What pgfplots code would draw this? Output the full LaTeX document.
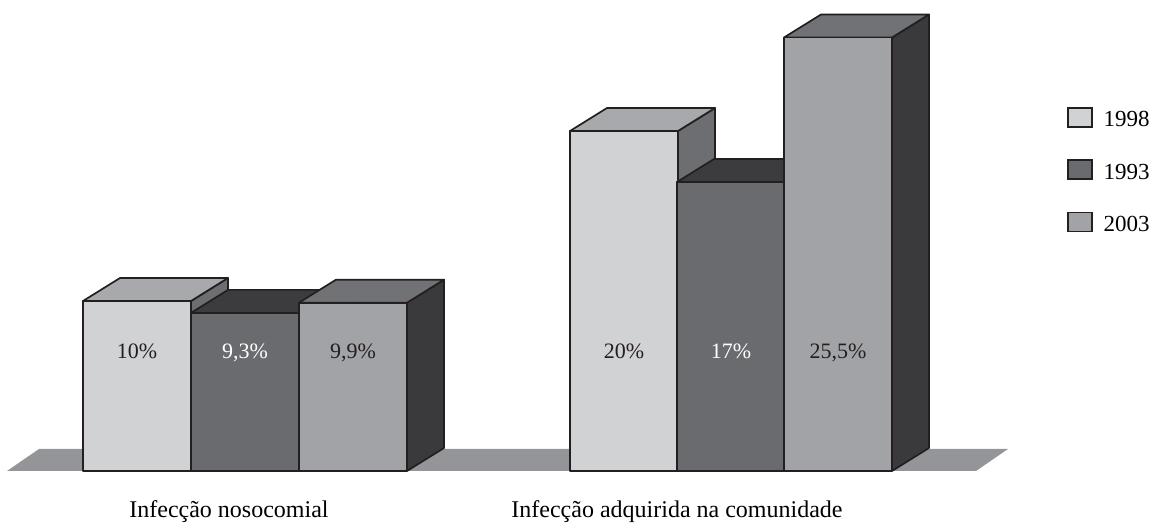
\documentclass[border=0pt]{standalone}
\usepackage{pgfplots}
\pgfplotsset{compat=1.18}
\usepackage{pgfplotstable}
\usepackage{fontspec}
\setmainfont{Liberation Serif}

\definecolor{edge}{HTML}{231F20}
\definecolor{floorgray}{HTML}{939598}
\definecolor{aFront}{HTML}{D1D2D4}
\definecolor{aTop}{HTML}{A7A9AC}
\definecolor{aSide}{HTML}{6D6E71}
\definecolor{bFront}{HTML}{6A6B6E}
\definecolor{bTop}{HTML}{3C3C3E}
\definecolor{bSide}{HTML}{3C3C3E}
\definecolor{cFront}{HTML}{A2A3A6}
\definecolor{cTop}{HTML}{707275}
\definecolor{cSide}{HTML}{3A3A3C}

% x = bar centre, v = percentage
\pgfplotstableread{
x v
137 10
624 20
}\tblA
\pgfplotstableread{
x v
245 9.3
731 17
}\tblB
\pgfplotstableread{
x v
353 9.9
838 25.5
}\tblC

\pgfplotsset{
  % a bar drawn as a box: front face, top face and right face
  box3d/.style n args={4}{
    only marks, scatter, mark=*, mark size=0pt,
    mark options={draw=none, fill=none},
    visualization depends on={rawy \as \val},
    scatter/@pre marker code/.code={
      \pgfmathsetmacro\h{\val*17}
      \pgfmathsetmacro\hb{23-\h}
      \pgfmathsetmacro\lab{112-\h}
      \filldraw[fill=#3, draw=edge, line width=1.7pt, line join=round]
        (54pt,0pt) -- (91pt,23pt) -- (91pt,\hb pt) -- (54pt,-\h pt) -- cycle;
      \filldraw[fill=#2, draw=edge, line width=1.7pt, line join=round]
        (-54pt,0pt) -- (54pt,0pt) -- (91pt,23pt) -- (-17pt,23pt) -- cycle;
      \filldraw[fill=#1, draw=edge, line width=1.7pt, line join=round]
        (-54pt,-\h pt) rectangle (54pt,0pt);
      \node[anchor=base, inner sep=0pt, text=#4,
            font=\fontsize{22}{26}\selectfont] at (0pt,\lab pt)
        {\pgfmathprintnumber[use comma,assume math mode=true]{\val}\%};
    },
    scatter/@post marker code/.code={},
    legend image code/.code={
      \draw[fill=#1, draw=edge, line width=1.4pt]
        (0pt,0pt) rectangle (24pt,19pt);
    },
  },
}

\begin{document}
\begin{tikzpicture}
\begin{axis}[
  x=1pt, y=17pt,
  xmin=0, xmax=1152, ymin=-3.235294, ymax=27.705882,
  axis line style={draw=none},
  ytick=\empty,
  xtick={229,677},
  xticklabels={Infecção nosocomial, Infecção adquirida na comunidade},
  major tick length=0pt,
  xticklabel style={anchor=base, yshift=8pt, inner sep=0pt,
    font=\fontsize{24}{28}\selectfont},
  clip=false,
  legend style={at={(axis description cs:0.9262,0.7966)}, anchor=north west,
    draw=none, fill=none, inner sep=0pt, row sep=31pt, column sep=11pt,
    nodes={inner sep=0pt, anchor=base},
    font=\fontsize{23}{27}\selectfont},
  legend cell align=left,
]
% floor
\addplot[fill=floorgray, draw=none, forget plot]
  coordinates {(7,0) (976,0) (1008,1.2941) (39,1.2941)} -- cycle;

\addplot[box3d={aFront}{aTop}{aSide}{edge}] table[x=x, y=v] {\tblA};
\addlegendentry{1998}
\addplot[box3d={bFront}{bTop}{bSide}{white}] table[x=x, y=v] {\tblB};
\addlegendentry{1993}
\addplot[box3d={cFront}{cTop}{cSide}{edge}] table[x=x, y=v] {\tblC};
\addlegendentry{2003}
\end{axis}
\pgfresetboundingbox
\path[use as bounding box] (current axis.south west) rectangle (current axis.north east);
\end{tikzpicture}
\end{document}
